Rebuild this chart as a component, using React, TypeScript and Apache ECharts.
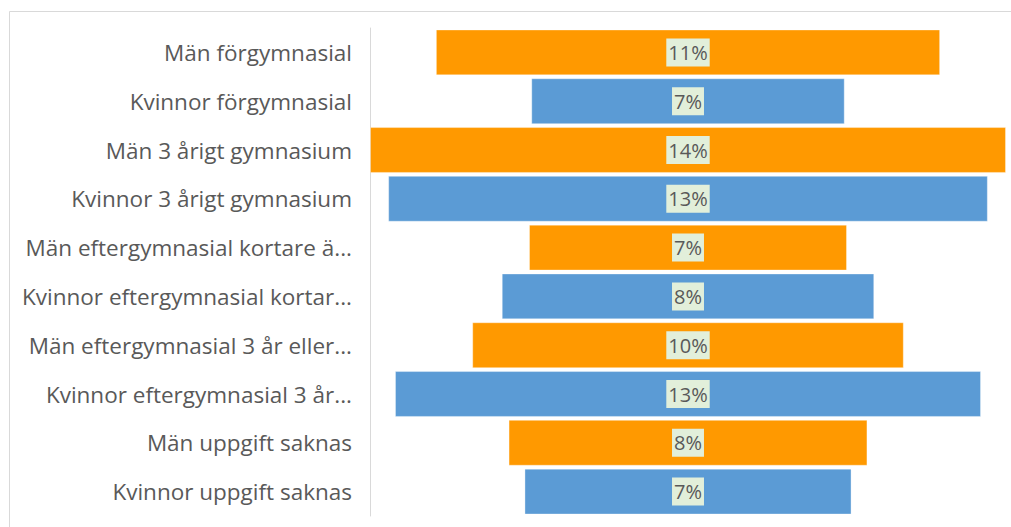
import React, { useEffect, useRef } from "react";
import * as echarts from "echarts";

const categories = [
  "Män förgymnasial",
  "Kvinnor förgymnasial",
  "Män 3 årigt gymnasium",
  "Kvinnor 3 årigt gymnasium",
  "Män eftergymnasial kortare ä...",
  "Kvinnor eftergymnasial kortar...",
  "Män eftergymnasial 3 år eller...",
  "Kvinnor eftergymnasial 3 år...",
  "Män uppgift saknas",
  "Kvinnor uppgift saknas",
];
const values = [11.1, 6.9, 14.0, 13.2, 7.0, 8.2, 9.5, 12.9, 7.9, 7.2];
const axisMax = 14.0;
const colorMen = "#FF9900";
const colorWomen = "#5B9BD5";

export default function App() {
  const ref = useRef<HTMLDivElement>(null);
  useEffect(() => {
    document.body.style.margin = "0";
    const chart = echarts.init(ref.current!, null, { renderer: "svg" });
    const offsets = values.map((v) => (axisMax - v) / 2);
    chart.setOption({
      animation: false,
      graphic: [
        {
          type: "rect",
          shape: { x: 9.5, y: 11.5, width: 1100, height: 600 },
          style: { fill: "none", stroke: "#D9D9D9", lineWidth: 1 },
          silent: true,
        },
      ],
      grid: { left: 370, right: 5, top: 28, bottom: 11, containLabel: false },
      xAxis: {
        type: "value",
        min: 0,
        max: axisMax,
        show: false,
      },
      yAxis: {
        type: "category",
        inverse: true,
        data: categories,
        axisLine: { show: true, lineStyle: { color: "#D9D9D9", width: 1 } },
        axisTick: { show: false },
        axisLabel: {
          color: "#595959",
          fontSize: 22.5,
          fontFamily: "Open Sans",
          margin: 18,
        },
      },
      series: [
        {
          type: "bar",
          stack: "s",
          data: offsets,
          itemStyle: { color: "transparent" },
          barCategoryGap: "6%",
          silent: true,
        },
        {
          type: "bar",
          stack: "s",
          barCategoryGap: "6%",
          data: values.map((v, i) => ({
            value: v,
            itemStyle: {
              color: i % 2 === 0 ? colorMen : colorWomen,
              borderColor: "rgba(255,255,255,0.35)",
              borderWidth: 1,
            },
          })),
          label: {
            show: true,
            position: "inside",
            formatter: (p: any) => Math.round(p.value) + "%",
            color: "#595959",
            fontSize: 20,
            fontFamily: "Open Sans",
            backgroundColor: "#E2EFDA",
            padding: [5, 2, 3, 2],
          },
        },
      ],
    });
    return () => chart.dispose();
  }, []);
  return (
    <div
      ref={ref}
      style={{ position: "absolute", left: 0, top: 0, width: 1011, height: 527 }}
    />
  );
}
